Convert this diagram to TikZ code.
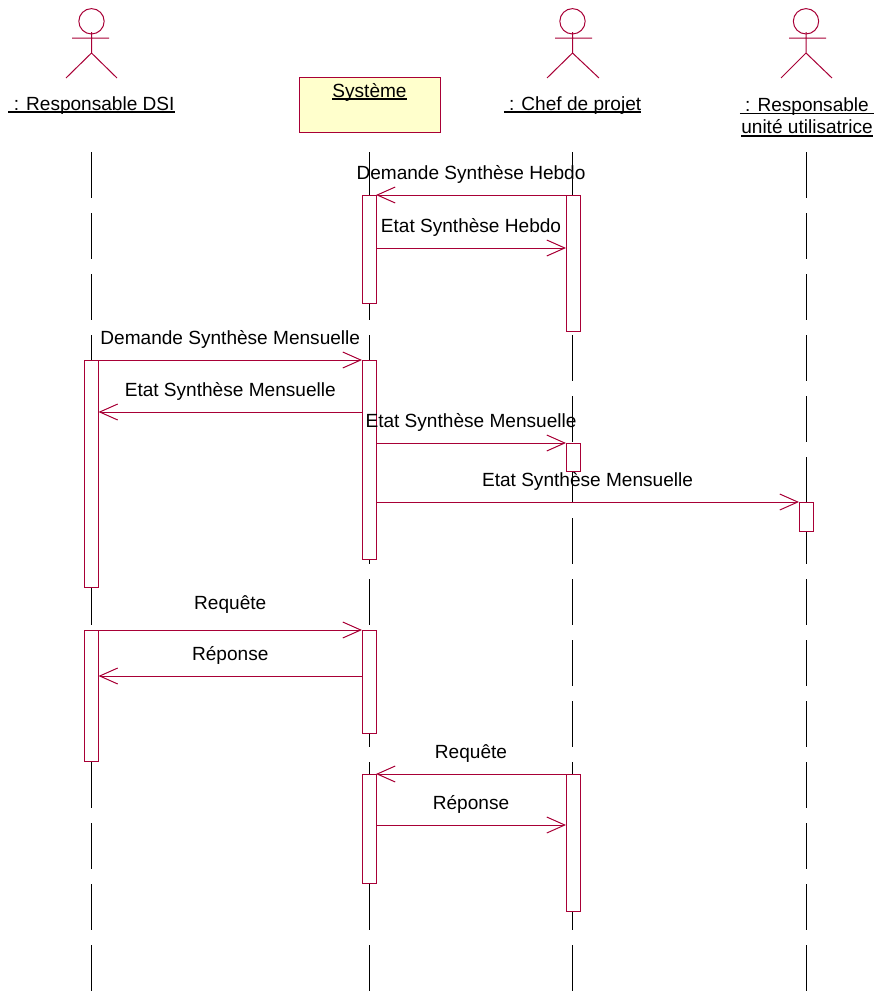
\documentclass[tikz,border=0pt]{standalone}
\usepackage{fontspec}
\setmainfont{Liberation Sans}
\usepackage{xcolor}
\usepackage{tikz}
\usetikzlibrary{arrows.meta,positioning}
\definecolor{umlred}{HTML}{A80036}
\definecolor{umlfill}{HTML}{FFFFCC}
\newcommand{\ulname}[1]{\leavevmode\setbox0=\hbox{#1}\rlap{\rule[-2.3pt]{\wd0}{1.2pt}}\box0}
\tikzset{
  actorline/.style={draw=umlred, line width=0.75pt},
  actorhead/.style={circle, draw=umlred, line width=0.75pt, minimum size=19pt, inner sep=0pt, outer sep=0pt},
  actorname/.style={anchor=base, inner sep=0pt, font=\fontsize{14.3}{17}\selectfont, align=center},
  lifeline/.style={draw=black, line width=0.75pt, dash pattern=on 34.2pt off 11.55pt},
  activation/.style={rectangle, draw=umlred, fill=white, line width=0.75pt, minimum width=10.5pt, inner sep=0pt, outer sep=0pt},
  objectbox/.style={rectangle, draw=umlred, fill=umlfill, line width=0.75pt, minimum width=105.75pt, inner xsep=0pt, inner ysep=0pt, outer sep=0pt, text height=15pt, text depth=26.25pt, font=\fontsize{14.3}{17}\selectfont},
  message/.style={->, >={Straight Barb[length=13.5pt, width=12pt, line width=0.75pt]}, draw=umlred, line width=0.75pt},
  msglabel/.style={midway, anchor=base, yshift=11.6pt, inner sep=0pt, font=\fontsize{14.3}{17}\selectfont, text=black}
}

\begin{document}
\begin{tikzpicture}[x=0.75pt, y=-0.75pt]
        \useasboundingbox (0,0) rectangle (877,992);

        % Actors and their names
        \node[actorhead] (dsiHead) at (91.5,21.3) {};
        \draw[actorline] (91.5,32) -- (91.5,53) -- (66,78) (91.5,53) -- (117,78) (72,38) -- (109,38);
        \node[actorname] (dsiName) at (91.5,110) {\ulname{\ : Responsable DSI}};

        \node[actorhead] (chefHead) at (572.5,21.3) {};
        \draw[actorline] (572.5,32) -- (572.5,53) -- (547,78) (572.5,53) -- (599,78) (555,38) -- (592,38);
        \node[actorname] (chefName) at (572.5,110) {\ulname{\ : Chef de projet}};

        \node[actorhead] (unitHead) at (806,21.3) {};
        \draw[actorline] (806,32) -- (806,53) -- (781,78) (806,53) -- (832,78) (789,38) -- (826,38);
        \node[actorname, anchor=north] (unitName) at (807,97) {\ulname{\ : Responsable\ }\\\ulname{unité utilisatrice}};

        % Object box
        \node[objectbox, anchor=north] (sysBox) at (369.5,77) {\ulname{Système}};

        % Lifelines
        \coordinate (dsiTop) at (91.5,152);
        \coordinate (dsiEnd) at (91.5,992);
        \coordinate (sysTop) at (369.5,152);
        \coordinate (sysEnd) at (369.5,992);
        \coordinate (chefTop) at (572.5,152);
        \coordinate (chefEnd) at (572.5,992);
        \coordinate (unitTop) at (806,152);
        \coordinate (unitEnd) at (806,992);
        \draw[lifeline] (dsiTop) -- (dsiEnd);
        \draw[lifeline] (sysTop) -- (sysEnd);
        \draw[lifeline] (chefTop) -- (chefEnd);
        \draw[lifeline] (unitTop) -- (unitEnd);

        % Activation bars
        \node[activation, minimum height=81pt] (sysA) at (369,249) {};
        \node[activation, minimum height=102pt] (chefA) at (573,263) {};
        \node[activation, minimum height=170.25pt] (dsiA) at (91.5,473.5) {};
        \node[activation, minimum height=149.25pt] (sysB) at (369,459.5) {};
        \node[activation, minimum height=21pt] (chefB) at (573,457) {};
        \node[activation, minimum height=21.75pt] (unitA) at (806,516.5) {};
        \node[activation, minimum height=98.25pt] (dsiB) at (91.5,695.5) {};
        \node[activation, minimum height=77.25pt] (sysC) at (369,681.5) {};
        \node[activation, minimum height=81.75pt] (sysD) at (369,828.5) {};
        \node[activation, minimum height=102.75pt] (chefC) at (573,842.5) {};

        % Messages with their labels
        \draw[message] (chefA.north west) -- node[msglabel] {Demande Synthèse Hebdo} (sysA.north east);
        \draw[message] (sysA.east |- 0,248) -- node[msglabel] {Etat Synthèse Hebdo} (chefA.west |- 0,248);
        \draw[message] (dsiA.north east) -- node[msglabel] {Demande Synthèse Mensuelle} (sysB.north west);
        \draw[message] (sysB.west |- 0,412) -- node[msglabel] {Etat Synthèse Mensuelle} (dsiA.east |- 0,412);
        \draw[message] (sysB.east |- chefB.north) -- node[msglabel] {Etat Synthèse Mensuelle} (chefB.north west);
        \draw[message] (sysB.east |- unitA.north) -- node[msglabel] {Etat Synthèse Mensuelle} (unitA.north west);
        \draw[message] (dsiB.north east) -- node[msglabel, yshift=4pt] {Requête} (sysC.north west);
        \draw[message] (sysC.west |- 0,676) -- node[msglabel] {Réponse} (dsiB.east |- 0,676);
        \draw[message] (chefC.north west) -- node[msglabel] {Requête} (sysD.north east);
        \draw[message] (sysD.east |- 0,825) -- node[msglabel] {Réponse} (chefC.west |- 0,825);
\end{tikzpicture}
\end{document}
